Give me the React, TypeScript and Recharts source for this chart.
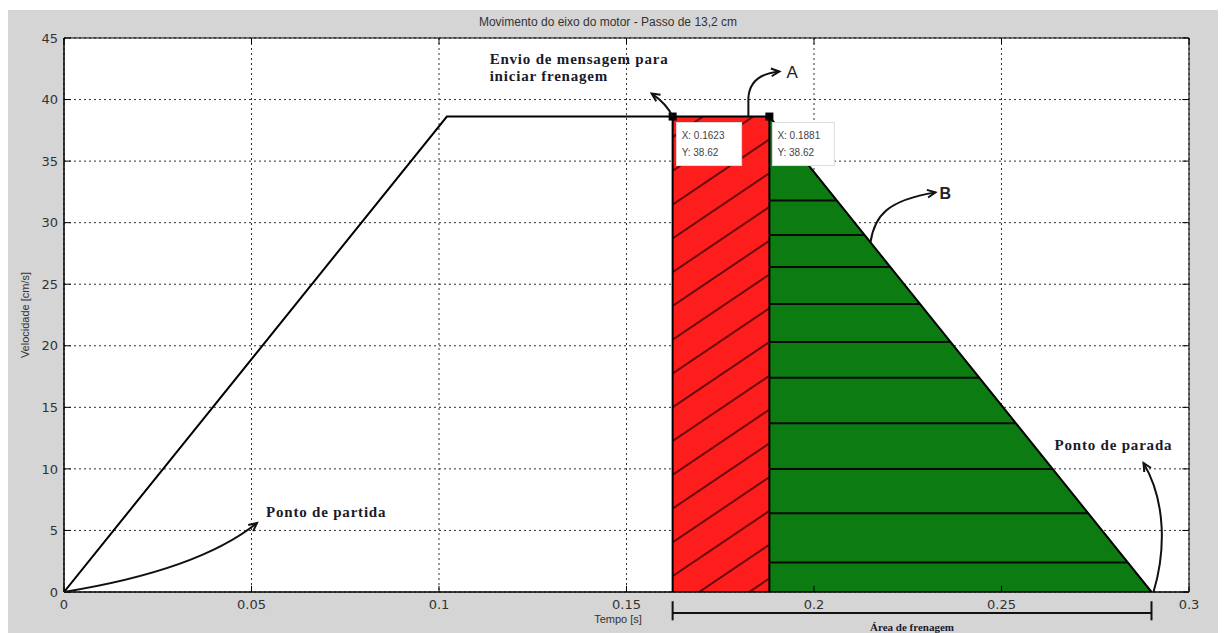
import React from 'react';
import {
  ComposedChart,
  Line,
  Area,
  XAxis,
  YAxis,
  CartesianGrid,
  ReferenceLine,
  ReferenceDot,
  ReferenceArea,
} from 'recharts';

// velocity profile of the motor shaft
const tempo = [0, 0.1021, 0.1623, 0.1881, 0.29];
const velocidade = [0, 38.62, 38.62, 38.62, 0];

const xTicks = [0, 0.05, 0.1, 0.15, 0.2, 0.25, 0.3];
const yTicks = [0, 5, 10, 15, 20, 25, 30, 35, 40, 45];

const inicioFrenagem = 0.1623;
const fimMensagem = 0.1881;
const pontoParada = 0.29;
const vMax = 38.62;

// levels of the horizontal hatch lines in the green area
const hachuraVerde = [31.8, 29.0, 26.4, 23.4, 20.3, 17.4, 13.7, 10.0, 6.4, 2.4];

const data = tempo.map((t, i) => ({
  t,
  v: velocidade[i],
  red: t >= inicioFrenagem && t <= fimMensagem ? velocidade[i] : null,
  green: t >= fimMensagem ? velocidade[i] : null,
}));

// t where the braking ramp reaches level v
const tOnRamp = (v: number) =>
  fimMensagem + ((vMax - v) / vMax) * (pontoParada - fimMensagem);

const serif = '"Liberation Serif", "Times New Roman", serif';
const sans = '"Liberation Sans", Arial, sans-serif';

function arrowHead(x: number, y: number, dx: number, dy: number) {
  const a = Math.atan2(dy, dx);
  const len = 9;
  const s = 0.45;
  const p1 = [x - len * Math.cos(a - s), y - len * Math.sin(a - s)];
  const p2 = [x - len * Math.cos(a + s), y - len * Math.sin(a + s)];
  return (
    <path
      d={`M${p1[0]},${p1[1]} L${x},${y} L${p2[0]},${p2[1]}`}
      fill="none"
      stroke="#111"
      strokeWidth={2}
    />
  );
}

const noteText = {
  fontFamily: serif,
  fontWeight: 700,
  fontSize: 15,
  letterSpacing: 0.8,
  fill: '#1a1a2a',
};

function DataTip(props: any, label: string[], dx: number, w: number) {
  const { cx, cy } = props;
  if (cx == null) return null;
  return (
    <g transform={`translate(${cx},${cy})`}>
      <rect x={-4} y={-4} width={8} height={8} fill="#000" />
      <rect x={dx} y={6} width={w} height={43} fill="#fff" stroke="#ddd" />
      <text x={dx + 5} y={22} fontSize={10} fontFamily={sans} fill="#444">
        {label[0]}
      </text>
      <text x={dx + 5} y={39} fontSize={10} fontFamily={sans} fill="#444">
        {label[1]}
      </text>
    </g>
  );
}

export default function App() {
  return (
    <div
      style={{
        position: 'relative',
        width: 1210,
        height: 623,
        marginTop: 2,
        background: '#d5d5d5',
      }}
    >
      <div
        style={{
          position: 'absolute',
          left: 600,
          top: 5,
          transform: 'translateX(-50%)',
          whiteSpace: 'nowrap',
          fontFamily: sans,
          fontSize: 12,
          color: '#333',
        }}
      >
        Movimento do eixo do motor - Passo de 13,2 cm
      </div>
      <div
        style={{
          position: 'absolute',
          left: 17,
          top: 305,
          transform: 'translate(-50%, -50%) rotate(-90deg)',
          whiteSpace: 'nowrap',
          fontFamily: sans,
          fontSize: 11,
          color: '#333',
        }}
      >
        Velocidade [cm/s]
      </div>
      <div
        style={{
          position: 'absolute',
          left: 610,
          top: 603,
          transform: 'translateX(-50%)',
          whiteSpace: 'nowrap',
          fontFamily: sans,
          fontSize: 11,
          color: '#333',
        }}
      >
        Tempo [s]
      </div>
      <ComposedChart
        width={1210}
        height={623}
        data={data}
        margin={{ top: 28, right: 29, bottom: 11, left: 0 }}
      >
        <defs>
          <pattern
            id="hatchRed"
            patternUnits="userSpaceOnUse"
            width={40}
            height={28}
            patternTransform="rotate(-34)"
          >
            <rect width={40} height={28} fill="#fd1d1d" />
            <line x1={0} y1={1} x2={40} y2={1} stroke="#6a0a0a" strokeWidth={1.8} />
          </pattern>
        </defs>
        <CartesianGrid fill="#fff" stroke="#333" strokeDasharray="2 3" />
        <XAxis
          type="number"
          dataKey="t"
          domain={[0, 0.3]}
          ticks={xTicks}
          allowDataOverflow
          height={30}
          tickSize={0}
          tickMargin={8}
          axisLine={{ stroke: '#000' }}
          tick={{ fill: '#333', fontSize: 13, fontFamily: '"DejaVu Sans", sans-serif' }}
        />
        <YAxis
          type="number"
          domain={[0, 45]}
          ticks={yTicks}
          allowDataOverflow
          width={56}
          tickSize={0}
          tickMargin={6}
          axisLine={{ stroke: '#000' }}
          tick={{ fill: '#333', fontSize: 13, fontFamily: '"DejaVu Sans", sans-serif' }}
        />
        <Area
          type="linear"
          dataKey="red"
          fill="url(#hatchRed)"
          fillOpacity={1}
          stroke="none"
          isAnimationActive={false}
          zIndex={100}
        />
        <Area
          type="linear"
          dataKey="green"
          fill="#0b7b12"
          fillOpacity={1}
          stroke="none"
          isAnimationActive={false}
          zIndex={100}
        />
        {hachuraVerde.map((v) => (
          <ReferenceLine
            key={v}
            segment={[
              { x: fimMensagem, y: v },
              { x: tOnRamp(v), y: v },
            ]}
            stroke="#0a0a0a"
            strokeWidth={2}
            zIndex={300}
          />
        ))}
        <ReferenceLine
          segment={[
            { x: inicioFrenagem, y: 0 },
            { x: inicioFrenagem, y: vMax },
          ]}
          stroke="#000"
          strokeWidth={2}
          zIndex={300}
        />
        <ReferenceLine
          segment={[
            { x: fimMensagem, y: 0 },
            { x: fimMensagem, y: vMax },
          ]}
          stroke="#000"
          strokeWidth={2}
          zIndex={300}
        />
        <Line
          type="linear"
          dataKey="v"
          stroke="#000"
          strokeWidth={2}
          dot={false}
          isAnimationActive={false}
          zIndex={400}
        />
        {/* inward tick marks and plot box */}
        {xTicks.map((t) => (
          <ReferenceLine
            key={'xb' + t}
            segment={[
              { x: t, y: 0 },
              { x: t, y: 0.5 },
            ]}
            stroke="#000"
            ifOverflow="visible"
          />
        ))}
        {xTicks.map((t) => (
          <ReferenceLine
            key={'xt' + t}
            segment={[
              { x: t, y: 45 },
              { x: t, y: 44.5 },
            ]}
            stroke="#000"
            ifOverflow="visible"
          />
        ))}
        {yTicks.map((v) => (
          <ReferenceLine
            key={'yl' + v}
            segment={[
              { x: 0, y: v },
              { x: 0.0018, y: v },
            ]}
            stroke="#000"
            ifOverflow="visible"
          />
        ))}
        {yTicks.map((v) => (
          <ReferenceLine
            key={'yr' + v}
            segment={[
              { x: 0.3, y: v },
              { x: 0.2982, y: v },
            ]}
            stroke="#000"
            ifOverflow="visible"
          />
        ))}
        <ReferenceArea
          x1={0}
          x2={0.3}
          y1={0}
          y2={45}
          fill="none"
          stroke="#000"
          strokeWidth={1}
          ifOverflow="visible"
          zIndex={500}
        />
        {/* data tips */}
        <ReferenceDot
          x={inicioFrenagem}
          y={vMax}
          r={0}
          zIndex={600}
          shape={(p: any) => DataTip(p, [`X: ${inicioFrenagem}`, `Y: ${vMax}`], 4, 65)}
        />
        <ReferenceDot
          x={fimMensagem}
          y={vMax}
          r={0}
          zIndex={600}
          shape={(p: any) => DataTip(p, [`X: ${fimMensagem}`, `Y: ${vMax}`], 3, 62)}
        />
        {/* annotations */}
        <ReferenceDot
          x={0}
          y={0}
          r={0}
          ifOverflow="visible"
          zIndex={700}
          shape={(p: any) => (
            <g transform={`translate(${p.cx},${p.cy})`}>
              <path d="M0,0 Q135,-22 193,-69" fill="none" stroke="#111" strokeWidth={2} />
              {arrowHead(193, -69, 58, -47)}
              <text x={202} y={-75} {...noteText}>
                Ponto de partida
              </text>
            </g>
          )}
        />
        <ReferenceDot
          x={inicioFrenagem}
          y={vMax}
          r={0}
          ifOverflow="visible"
          zIndex={700}
          shape={(p: any) => (
            <g transform={`translate(${p.cx},${p.cy})`}>
              <path d="M0,0 Q-6,-13 -21,-23" fill="none" stroke="#111" strokeWidth={2} />
              {arrowHead(-21, -23, -15, -10)}
              <text x={-183} y={-53} {...noteText}>
                Envio de mensagem para
              </text>
              <text x={-183} y={-36} {...noteText}>
                iniciar frenagem
              </text>
            </g>
          )}
        />
        <ReferenceDot
          x={fimMensagem}
          y={vMax}
          r={0}
          ifOverflow="visible"
          zIndex={700}
          shape={(p: any) => (
            <g transform={`translate(${p.cx},${p.cy})`}>
              <path d="M-21,0 L-21,-18 Q-20,-42 10,-45" fill="none" stroke="#111" strokeWidth={2} />
              {arrowHead(10, -45, 30, -3)}
              <text x={17} y={-39} fontFamily={sans} fontSize={17} fill="#222">
                A
              </text>
            </g>
          )}
        />
        <ReferenceDot
          x={tOnRamp(28.4)}
          y={28.4}
          r={0}
          ifOverflow="visible"
          zIndex={700}
          shape={(p: any) => (
            <g transform={`translate(${p.cx},${p.cy})`}>
              <path d="M0,0 C4,-27 17,-42 65,-50" fill="none" stroke="#111" strokeWidth={2} />
              {arrowHead(65, -50, 48, -8)}
              <text x={69} y={-43} fontFamily={sans} fontWeight={700} fontSize={16} fill="#222">
                B
              </text>
            </g>
          )}
        />
        <ReferenceDot
          x={pontoParada}
          y={0}
          r={0}
          ifOverflow="visible"
          zIndex={700}
          shape={(p: any) => (
            <g transform={`translate(${p.cx},${p.cy})`}>
              <path d="M2,0 C14,-40 15,-90 -8,-129" fill="none" stroke="#111" strokeWidth={2} />
              {arrowHead(-8, -129, -23, -39)}
              <text x={-97} y={-142} {...noteText}>
                Ponto de parada
              </text>
            </g>
          )}
        />
        {/* braking area bracket */}
        <ReferenceLine
          segment={[
            { x: inicioFrenagem, y: -1.7 },
            { x: pontoParada, y: -1.7 },
          ]}
          stroke="#111"
          strokeWidth={2}
          ifOverflow="visible"
        />
        <ReferenceLine
          segment={[
            { x: inicioFrenagem, y: -0.75 },
            { x: inicioFrenagem, y: -2.3 },
          ]}
          stroke="#111"
          strokeWidth={2}
          ifOverflow="visible"
        />
        <ReferenceLine
          segment={[
            { x: pontoParada, y: -0.75 },
            { x: pontoParada, y: -2.3 },
          ]}
          stroke="#111"
          strokeWidth={2}
          ifOverflow="visible"
        />
        <ReferenceDot
          x={(inicioFrenagem + pontoParada) / 2}
          y={-2.95}
          r={0}
          ifOverflow="visible"
          zIndex={700}
          shape={(p: any) => (
            <text
              x={p.cx}
              y={p.cy}
              textAnchor="middle"
              dominantBaseline="middle"
              fontFamily={serif}
              fontWeight={700}
              fontSize={11}
              fill="#1a1a2a"
            >
              Área de frenagem
            </text>
          )}
        />
      </ComposedChart>
    </div>
  );
}
